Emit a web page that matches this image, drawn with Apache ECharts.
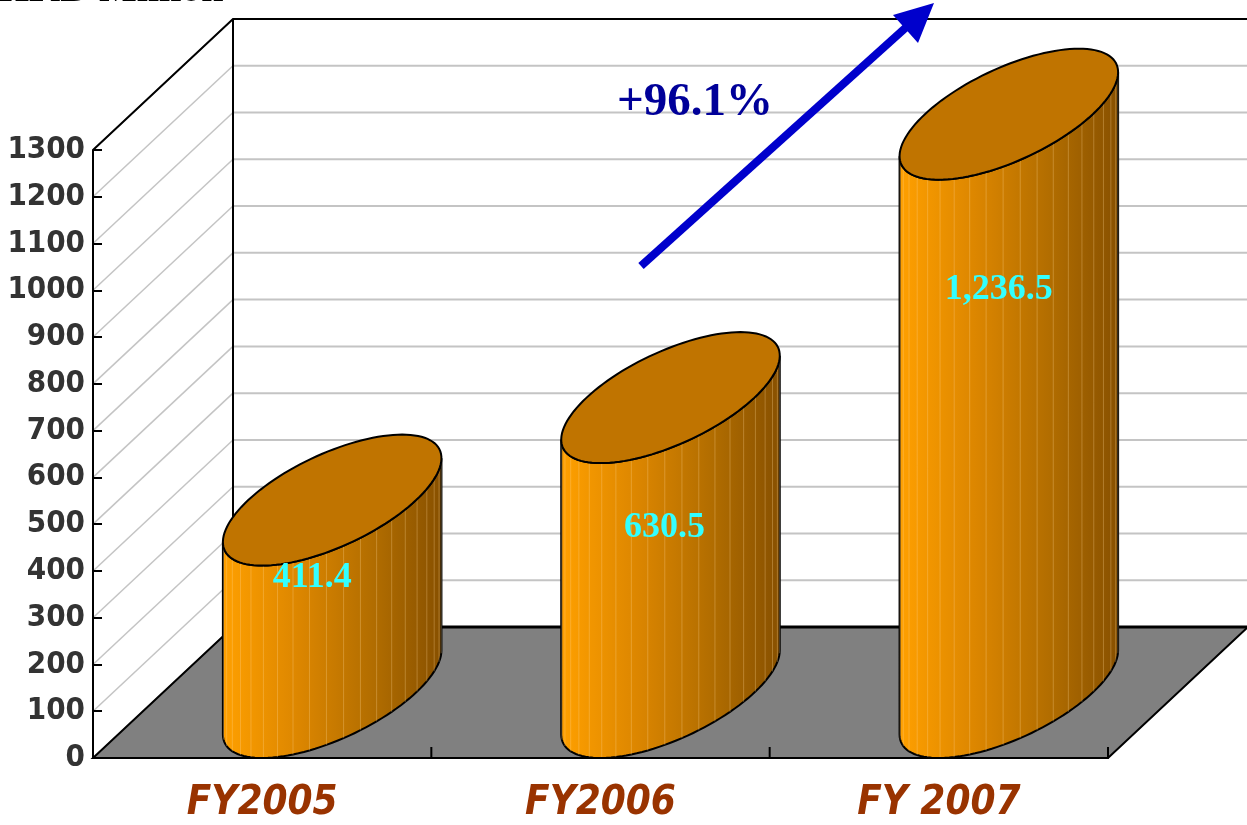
<!DOCTYPE html>
<html>
<head>
<meta charset="utf-8">
<title>HKD Million</title>
<script src="https://cdn.jsdelivr.net/npm/echarts@6/dist/echarts.min.js"></script>
<style>
  html, body { margin: 0; padding: 0; background: #fff; }
  #main { width: 1247px; height: 825px; }
</style>
</head>
<body>
<div id="main"></div>
<script>
// 数据
var categories = ['FY2005', 'FY2006', 'FY 2007'];
var revenue = [411.4, 630.5, 1236.5];
var valueLabels = ['411.4', '630.5', '1,236.5'];
var yTicks = [0, 100, 200, 300, 400, 500, 600, 700, 800, 900, 1000, 1100, 1200, 1300];
var growthText = '+96.1%';
var unitText = 'HKD Million';

// 3D 偏移 (深度方向)
var DX = 140, DY = 131;
// 数值标签位置微调
var labelDx = [50, 64, 60];
var labelDy = [12, 65, 110];

var narrow = '"Liberation Sans Narrow", "Arial Narrow", "DejaVu Sans Condensed", sans-serif';
var serif = '"Liberation Serif", "Times New Roman", serif';

var myChart = echarts.init(document.getElementById('main'));

function ellipsePt(xf, yf, R, t) {
    var z = 0.5 + 0.5 * Math.sin(t);
    return [xf + R * Math.cos(t) + z * DX, yf - z * DY];
}

// 墙面和地板
function renderFrame(params, api) {
    var cs = params.coordSys;
    var x0 = cs.x, y0 = cs.y + cs.height, x1 = cs.x + cs.width, yTop = cs.y;
    var children = [];
    // 侧墙
    children.push({ type: 'polygon', shape: { points: [[x0, yTop], [x0 + DX, yTop - DY], [x0 + DX, y0 - DY], [x0, y0]] },
        style: { fill: '#fff' } });
    // 背墙
    children.push({ type: 'rect', shape: { x: x0 + DX, y: yTop - DY, width: cs.width + 20, height: cs.height },
        style: { fill: '#fff' } });
    // 网格线
    for (var i = 0; i < yTicks.length; i++) {
        var p = api.coord([0, yTicks[i]]);
        var yy = p[1];
        children.push({ type: 'line', shape: { x1: x0, y1: yy, x2: x0 + DX, y2: yy - DY },
            style: { stroke: '#c4c4c4', lineWidth: 1.5 } });
        children.push({ type: 'line', shape: { x1: x0 + DX, y1: yy - DY, x2: x1 + DX + 5, y2: yy - DY },
            style: { stroke: '#c4c4c4', lineWidth: 2 } });
    }
    // 地板
    children.push({ type: 'polygon', shape: { points: [[x0, y0], [x0 + DX, y0 - DY], [x1 + DX, y0 - DY], [x1, y0]] },
        style: { fill: '#808080', stroke: '#000', lineWidth: 2 } });
    children.push({ type: 'line', shape: { x1: x0 + DX, y1: y0 - DY, x2: x1 + DX, y2: y0 - DY },
        style: { stroke: '#000', lineWidth: 3 } });
    // 轮廓
    children.push({ type: 'polyline', shape: { points: [[x0, yTop], [x0 + DX, yTop - DY], [x1 + DX + 5, yTop - DY]] },
        style: { stroke: '#000', lineWidth: 2, fill: null } });
    children.push({ type: 'line', shape: { x1: x0 + DX, y1: yTop - DY, x2: x0 + DX, y2: y0 - DY },
        style: { stroke: '#000', lineWidth: 2 } });
    // 分类刻度
    var band = api.size([1, 0])[0];
    for (var k = 1; k <= categories.length; k++) {
        var tx = x0 + band * k;
        children.push({ type: 'line', shape: { x1: tx, y1: y0, x2: tx, y2: y0 - 11 },
            style: { stroke: '#000', lineWidth: 2 } });
    }
    return { type: 'group', children: children };
}

// 圆柱
function renderCylinder(params, api) {
    var idx = api.value(0);
    var base = api.coord([idx, 0]);
    var top = api.coord([idx, api.value(1)]);
    var band = api.size([1, 0])[0];
    var R = band * 0.248;
    var t0 = Math.atan2(0.5 * DX, R);
    var n = 60;
    var bottomArc = [], topArc = [];
    for (var i = 0; i <= n; i++) {
        var t = t0 + Math.PI + Math.PI * i / n;
        bottomArc.push(ellipsePt(base[0], base[1], R, t));
        topArc.push(ellipsePt(base[0], top[1], R, t));
    }
    var side = bottomArc.concat(topArc.slice().reverse());
    var children = [];
    children.push({ type: 'polygon', shape: { points: side },
        style: {
            fill: new echarts.graphic.LinearGradient(0, 0, 1, 0, [
                { offset: 0, color: '#ffa000' },
                { offset: 0.35, color: '#dc8600' },
                { offset: 0.7, color: '#b06c00' },
                { offset: 1, color: '#875000' }
            ]),
            stroke: '#000', lineWidth: 2
        } });
    // 竖条纹
    for (var s = 2; s < n; s += 3) {
        children.push({ type: 'line', shape: { x1: bottomArc[s][0], y1: bottomArc[s][1], x2: topArc[s][0], y2: topArc[s][1] },
            style: { stroke: 'rgba(255,215,150,0.3)', lineWidth: 1 } });
    }
    // 顶面
    var cap = [];
    for (var j = 0; j < 2 * n; j++) {
        cap.push(ellipsePt(base[0], top[1], R, Math.PI * j / n));
    }
    children.push({ type: 'polygon', shape: { points: cap },
        style: { fill: '#c07400', stroke: '#000', lineWidth: 2 } });
    // 数值标签
    children.push({ type: 'text', x: base[0] + labelDx[idx], y: top[1] + labelDy[idx],
        style: { text: valueLabels[idx], fill: '#33ffff', font: 'bold 36px ' + serif,
            align: 'center', verticalAlign: 'middle' } });
    return { type: 'group', children: children };
}

var option = {
    backgroundColor: '#fff',
    animation: false,
    grid: { left: 93, right: 139, top: 150, bottom: 67, containLabel: false, outerBoundsMode: 'none' },
    xAxis: {
        type: 'category',
        data: categories,
        axisLine: { show: true, lineStyle: { color: '#000', width: 2 } },
        axisTick: { show: false },
        axisLabel: {
            margin: 26,
            color: '#993300',
            fontSize: 40,
            fontStyle: 'italic',
            fontWeight: 'bold',
            fontFamily: narrow
        },
        splitLine: { show: false },
        z: 5
    },
    yAxis: {
        type: 'value',
        min: 0,
        max: 1300,
        interval: 100,
        axisLine: { show: true, lineStyle: { color: '#000', width: 2 } },
        axisTick: { show: true, inside: true, length: 9, lineStyle: { color: '#000', width: 2 } },
        axisLabel: {
            margin: 8,
            color: '#333333',
            fontSize: 31,
            fontWeight: 'bold',
            fontFamily: narrow,
            formatter: function (v) { return String(v); }
        },
        splitLine: { show: false },
        z: 5
    },
    series: [
        {
            type: 'custom',
            name: 'frame',
            renderItem: renderFrame,
            data: [[0, 0]],
            silent: true,
            z: 1
        },
        {
            type: 'custom',
            name: 'revenue',
            renderItem: renderCylinder,
            data: revenue.map(function (v, i) { return [i, v]; }),
            silent: true,
            z: 3
        }
    ],
    graphic: [
        { type: 'text', left: -2, top: -29,
          style: { text: unitText, fill: '#000', font: 'bold 40px ' + serif } },
        { type: 'line', shape: { x1: 641, y1: 266, x2: 912, y2: 22 },
          style: { stroke: '#0000cc', lineWidth: 8 }, z: 10 },
        { type: 'polygon', shape: { points: [[934, 3], [893, 15], [918, 43]] },
          style: { fill: '#0000cc' }, z: 10 },
        { type: 'text', x: 695, y: 103,
          style: { text: growthText, fill: '#000099', font: 'bold 47px ' + serif,
                   align: 'center', verticalAlign: 'middle' }, z: 10 }
    ]
};

myChart.setOption(option);
</script>
</body>
</html>
